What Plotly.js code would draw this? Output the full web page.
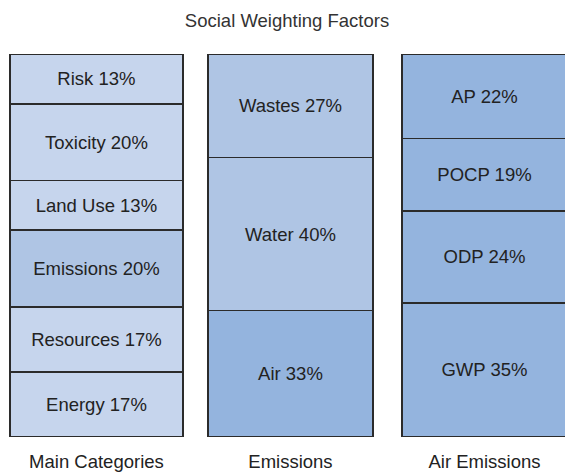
<!DOCTYPE html>
<html>
<head>
<meta charset="utf-8">
<script src="https://cdn.plot.ly/plotly-3.0.1.min.js"></script>
<style>html,body{margin:0;padding:0;background:#fff;}#chart{width:565px;height:473px;}</style>
</head>
<body>
<div id="chart"></div>
<script>
// Categories (x axis)
const categories = ['Main Categories', 'Emissions', 'Air Emissions'];

// Segments, listed bottom to top
const mainLabels = ['Energy', 'Resources', 'Emissions', 'Land Use', 'Toxicity', 'Risk'];
const mainValues = [17, 17, 20, 13, 20, 13];

const emissionLabels = ['Air', 'Water', 'Wastes'];
const emissionValues = [33, 40, 27];

const airLabels = ['GWP', 'ODP', 'POCP', 'AP'];
const airValues = [35, 24, 19, 22];

// Styles
const light = '#c6d5ed', mid = '#afc5e4', dark = '#94b4de';
const mainColors = [light, light, mid, light, light, light];
const emissionColors = [dark, mid, mid];
const airColors = [dark, dark, dark, dark];
const barWidths = [0.892, 0.851, 0.851];
const FONT = 'Liberation Sans, Arial, sans-serif';

const groups = [
  {cat: categories[0], labels: mainLabels, values: mainValues, colors: mainColors, width: barWidths[0]},
  {cat: categories[1], labels: emissionLabels, values: emissionValues, colors: emissionColors, width: barWidths[1]},
  {cat: categories[2], labels: airLabels, values: airValues, colors: airColors, width: barWidths[2]}
];

const traces = [];
groups.forEach(g => {
  g.labels.forEach((lab, i) => {
    traces.push({
      type: 'bar',
      x: [g.cat],
      y: [g.values[i]],
      width: [g.width],
      text: [lab + ' ' + g.values[i] + '%'],
      textposition: 'inside',
      insidetextanchor: 'middle',
      textangle: 0,
      textfont: {family: FONT, size: 18.5, color: '#222'},
      marker: {color: g.colors[i], line: {color: '#2b2b2b', width: 1.5}},
      hoverinfo: 'skip',
      showlegend: false
    });
  });
});

const layout = {
  width: 565,
  height: 473,
  margin: {l: 0, r: 0, t: 54, b: 36, pad: 0},
  paper_bgcolor: '#fff',
  plot_bgcolor: '#fff',
  barmode: 'stack',
  title: {
    text: 'Social Weighting Factors',
    font: {family: FONT, size: 18.5, color: '#333'},
    x: 287 / 565, xref: 'container', xanchor: 'center',
    y: 1 - 21 / 473, yref: 'container', yanchor: 'middle'
  },
  xaxis: {
    type: 'category',
    range: [-0.497, 2.415],
    showgrid: false, zeroline: false, showline: false,
    ticks: '',
    ticklabelstandoff: 11,
    tickfont: {family: FONT, size: 18.5, color: '#222'},
    fixedrange: true
  },
  yaxis: {
    range: [0, 100],
    visible: false,
    fixedrange: true
  },
  font: {family: FONT},
  hovermode: false
};

Plotly.newPlot('chart', traces, layout, {staticPlot: true, displayModeBar: false});
</script>
</body>
</html>
